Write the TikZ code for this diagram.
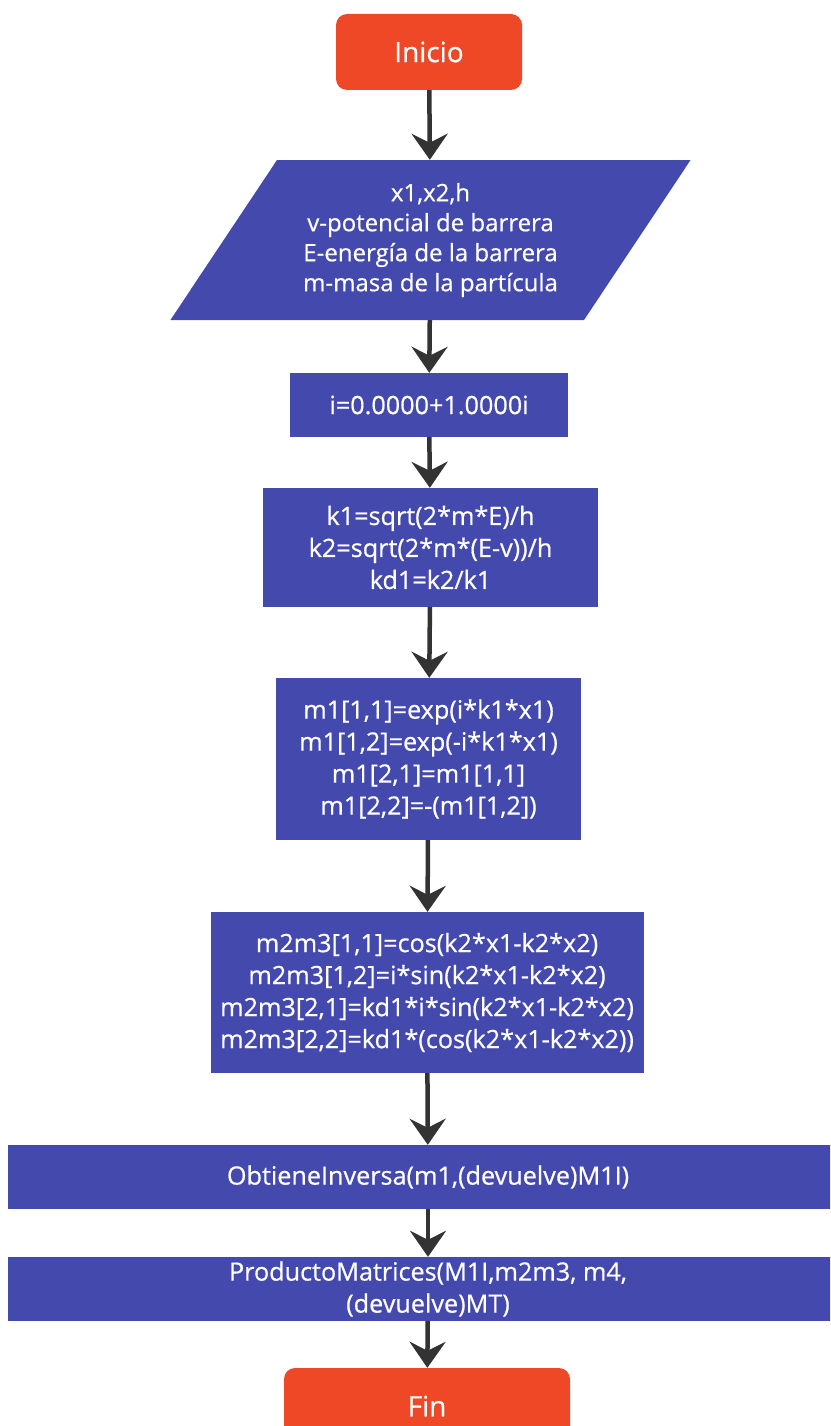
\documentclass[tikz,border=0pt]{standalone}
\usepackage{fontspec}
\setmainfont{Open Sans}
\newfontfamily\letraflujo{Open Sans}[FakeBold=0.6]
\usetikzlibrary{arrows.meta,shapes.geometric}
\definecolor{azul}{HTML}{4349AD}
\definecolor{naranja}{HTML}{EE4826}
\definecolor{flecha}{HTML}{333333}

\begin{document}
\begin{tikzpicture}[x=1pt,y=-1pt,
  caja/.style={fill=azul,text=white,align=center,inner sep=0pt,
    font=\letraflujo\fontsize{25.2}{32}\selectfont},
  extremo/.style={caja,fill=naranja,rounded corners=11pt,
    font=\letraflujo\fontsize{28}{32}\selectfont},
  datos/.style={caja,trapezium,trapezium left angle=52.2,
    trapezium right angle=127.8,trapezium stretches=true},
  flujo/.style={-{Stealth[length=26pt,width=36pt,inset=9pt]},
    line width=4.5pt,draw=flecha}]
\clip (0,0) rectangle (830,1426);
\node[extremo,minimum width=186pt,minimum height=76pt] (inicio) at (429,52) {Inicio};
\node[datos,minimum width=523pt,minimum height=160pt,
  font=\letraflujo\fontsize{24}{30}\selectfont] (entrada) at (430.5,240)
  {x1,x2,h\\v-potencial de barrera\\E-energía de la barrera\\m-masa de la partícula};
\node[caja,minimum width=278pt,minimum height=64pt] (imag) at (429,405) {i=0.0000+1.0000i};
\node[caja,minimum width=335pt,minimum height=119pt] (ks) at (430.5,547.5)
  {k1=sqrt(2*m*E)/h\\k2=sqrt(2*m*(E-v))/h\\kd1=k2/k1};
\node[caja,minimum width=305pt,minimum height=162pt] (mat1) at (428.5,759)
  {m1[1,1]=exp(i*k1*x1)\\m1[1,2]=exp(-i*k1*x1)\\m1[2,1]=m1[1,1]\\m1[2,2]=-(m1[1,2])};
\node[caja,minimum width=433pt,minimum height=161pt] (mat23) at (427,992.5)
  {m2m3[1,1]=cos(k2*x1-k2*x2)\\m2m3[1,2]=i*sin(k2*x1-k2*x2)\\
   m2m3[2,1]=kd1*i*sin(k2*x1-k2*x2)\\m2m3[2,2]=kd1*(cos(k2*x1-k2*x2))};
\node[caja,minimum width=840pt,minimum height=64pt] (inversa) at (428,1177)
  {ObtieneInversa(m1,(devuelve)M1I)};
\node[caja,minimum width=840pt,minimum height=64pt] (producto) at (428,1289)
  {ProductoMatrices(M1I,m2m3, m4,\\(devuelve)MT)};
\node[extremo,minimum width=286pt,minimum height=76pt] (fin) at (427,1406) {Fin};
% flechas
\draw[flujo] (inicio) -- (entrada);
\draw[flujo] (entrada) -- (imag);
\draw[flujo] (imag) -- (ks);
\draw[flujo] (ks) -- (mat1);
\draw[flujo] (mat1) -- (mat23);
\draw[flujo] (mat23) -- (inversa);
\draw[flujo] (inversa) -- (producto);
\draw[flujo] (producto) -- (fin);
\end{tikzpicture}
\end{document}
